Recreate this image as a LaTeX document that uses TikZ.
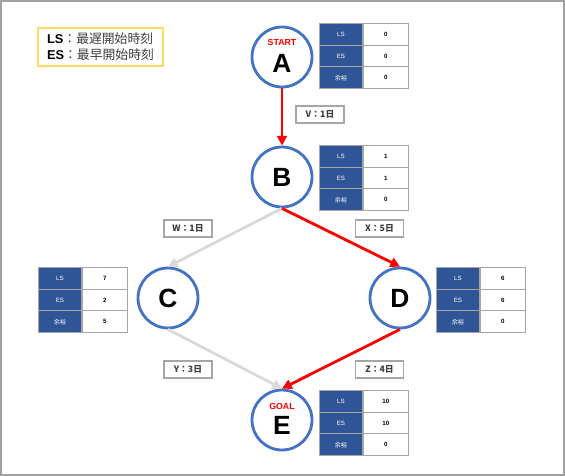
\documentclass[tikz,border=0pt]{standalone}
\usepackage{fontspec}
\setmainfont{Liberation Sans}
\newfontfamily\jpfont{Noto Sans CJK JP}
\usetikzlibrary{arrows.meta,positioning}
\definecolor{evblue}{HTML}{4472C4}
\definecolor{headblue}{HTML}{2F5597}
\definecolor{cellgray}{HTML}{A6A6A6}
\definecolor{linkgray}{HTML}{D9D9D9}
\definecolor{legendorange}{HTML}{FFD966}
\definecolor{framegray}{HTML}{A0A0A0}
\definecolor{textgray}{HTML}{404040}
% LS / ES / slack table beside an event: name, x, y (top left), LS, ES, slack
\newcommand{\eventtable}[6]{%
  \foreach \lab/\val [count=\i from 0] in {LS/#4,ES/#5,{\jpfont 余裕}/#6} {
    \node[headcell] (#1-h\i) at (#2,{#3+\i*21.7}) {\lab};
    \node[valcell] (#1-v\i) at (#1-h\i.east) {\val};
  }}
\begin{document}
\begin{tikzpicture}[x=0.02cm,y=-0.02cm,
    event/.style={circle,draw=evblue,line width=1.6pt,fill=white,minimum size=1.2cm,inner sep=0pt,font=\bfseries\fontsize{15}{15}\selectfont},
    evletter/.style={inner sep=0pt,font=\bfseries\fontsize{15}{15}\selectfont},
    endlab/.style={inner sep=0pt,text=red,font=\bfseries\fontsize{5}{5}\selectfont},
    headcell/.style={anchor=north west,draw=cellgray,line width=0.5pt,fill=headblue,text=white,minimum width=0.86cm,minimum height=0.434cm,inner sep=0pt,font=\fontsize{3.5}{3.5}\selectfont},
    valcell/.style={anchor=west,draw=cellgray,line width=0.5pt,fill=white,minimum width=0.9cm,minimum height=0.434cm,inner sep=0pt,font=\bfseries\fontsize{3.5}{3.5}\selectfont},
    durbox/.style={draw=cellgray,line width=0.6pt,fill=white,text=textgray,minimum width=0.96cm,minimum height=0.34cm,inner sep=0pt,font=\jpfont\bfseries\fontsize{5}{5}\selectfont},
    critical/.style={draw=red,line width=1.6pt,-{Triangle[length=5.5pt,width=5.5pt]}},
    slackarrow/.style={draw=linkgray,line width=1.6pt,-{Triangle[length=5.5pt,width=5.5pt]}}]
  \useasboundingbox (0,0) rectangle (565,476);
  \draw[framegray,line width=1pt] (1,1) rectangle (564,475);
  % legend
  \node[draw=legendorange,line width=0.7pt,minimum width=2.5cm,minimum height=0.76cm,align=left,inner sep=0pt,font=\fontsize{7.3}{9}\selectfont] (legend) at (100.5,47)
    {\textbf{LS}{\jpfont\color{textgray}：最遅開始時刻}\\\textbf{ES}{\jpfont\color{textgray}：最早開始時刻}};
  % events
  \node[event] (A) at (282,57) {};
  \node[endlab] (A-start) at (282,42) {START};
  \node[evletter] (A-lab) at (282,63) {A};
  \node[event] (B) at (282,177) {B};
  \node[event] (C) at (168,298) {C};
  \node[event] (D) at (400,298) {D};
  \node[event] (E) at (282,420) {};
  \node[endlab] (E-goal) at (282,406) {GOAL};
  \node[evletter] (E-lab) at (282,425) {E};
  % activities
  \draw[critical] (A) -- (B);
  \draw[slackarrow] (B.south) -- (C.north);
  \draw[critical] (B.south) -- (D.north);
  \draw[slackarrow] (C.south) -- (E.north);
  \draw[critical] (D.south) -- (E.north);
  \node[durbox] (V) at (320,114.5) {V：1日};
  \node[durbox] (W) at (188,228.5) {W：1日};
  \node[durbox] (X) at (379.5,228.5) {X：5日};
  \node[durbox] (Y) at (188,369.5) {Y：3日};
  \node[durbox] (Z) at (379.5,369.5) {Z：4日};
  % tables
  \eventtable{tA}{319}{23}{0}{0}{0}
  \eventtable{tB}{319}{145}{1}{1}{0}
  \eventtable{tC}{38}{267}{7}{2}{5}
  \eventtable{tD}{436}{267}{6}{6}{0}
  \eventtable{tE}{319}{390}{10}{10}{0}
\end{tikzpicture}
\end{document}
